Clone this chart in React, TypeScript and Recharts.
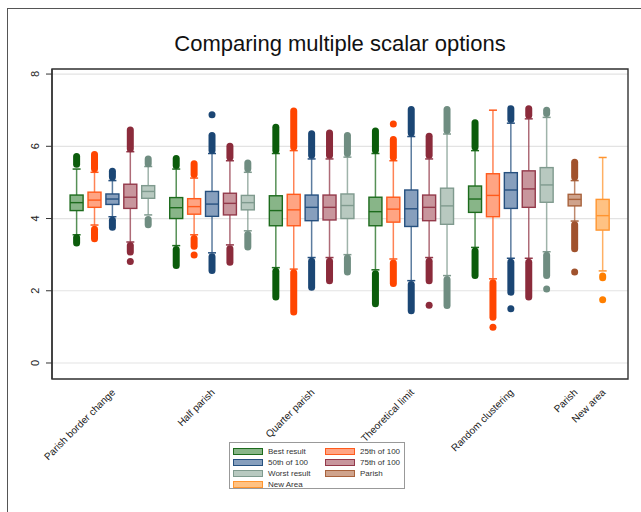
import React from "react";
import { ComposedChart, Bar, XAxis, YAxis, CartesianGrid, ReferenceArea } from "recharts";

const FONT = '"Liberation Sans", Arial, sans-serif';

const GROUPS = [
  "Parish border change",
  "Half parish",
  "Quarter parish",
  "Theoretical limit",
  "Random clustering",
  "Parish",
  "New area",
];
const SERIES = ["Best result", "25th of 100", "50th of 100", "75th of 100", "Worst result", "Parish", "New Area"];

// series shown inside each group, left to right
const GROUP_SERIES = [
  [0, 1, 2, 3, 4],
  [0, 1, 2, 3, 4],
  [0, 1, 2, 3, 4],
  [0, 1, 2, 3, 4],
  [0, 1, 2, 3, 4],
  [5],
  [6],
];

// one entry per box, in plot order
const Q1 = [
  4.22, 4.31, 4.39, 4.28, 4.56,
  4.0, 4.12, 4.06, 4.1, 4.24,
  3.8, 3.8, 3.94, 3.96, 4.0,
  3.8, 3.9, 3.78, 3.94, 3.84,
  4.17, 4.05, 4.28, 4.31, 4.45,
  4.35,
  3.68,
];
const MEDIAN = [
  4.44, 4.51, 4.54, 4.59, 4.75,
  4.3, 4.33, 4.4, 4.42, 4.44,
  4.22, 4.24, 4.31, 4.31, 4.36,
  4.19, 4.26, 4.27, 4.31, 4.35,
  4.54, 4.64, 4.79, 4.82, 4.93,
  4.53,
  4.08,
];
const Q3 = [
  4.65, 4.73, 4.68, 4.95, 4.91,
  4.58, 4.55, 4.75, 4.7, 4.64,
  4.63, 4.67, 4.65, 4.65, 4.68,
  4.59, 4.59, 4.79, 4.65, 4.84,
  4.9, 5.24, 5.27, 5.32, 5.41,
  4.67,
  4.53,
];
const WHISKER_LOW = [
  3.55, 3.82, 4.05, 3.35, 4.1,
  3.25, 3.55, 3.05, 3.27, 3.66,
  2.64, 2.6, 2.92, 2.92, 3.0,
  2.58, 2.88, 2.28, 2.92, 2.42,
  3.2, 2.33, 2.9, 2.9, 3.08,
  3.93,
  2.55,
];
const WHISKER_HIGH = [
  5.37, 5.28, 5.05, 5.85, 5.44,
  5.37, 5.12, 5.8, 5.6, 5.28,
  5.8, 5.88, 5.65, 5.65, 5.7,
  5.8, 5.6, 6.27, 5.65, 6.34,
  5.88, 7.0, 6.64, 6.76, 6.8,
  5.05,
  5.69,
];
// dense runs of outside values, [from, to]
const OUTLIERS_HIGH: ([number, number] | null)[] = [
  [5.5, 5.72], [5.38, 5.77], [5.15, 5.31], [5.93, 6.45], [5.52, 5.65],
  [5.47, 5.66], [5.22, 5.52], [5.89, 6.3], [5.7, 6.0], [5.38, 5.54],
  [5.89, 6.53], [5.98, 6.98], [5.75, 6.35], [5.75, 6.37], [5.8, 6.3],
  [5.89, 6.42], [5.7, 6.19], [6.37, 7.02], [5.75, 6.28], [6.44, 7.02],
  [5.98, 6.65], null, [6.74, 7.04], [6.86, 7.04], [6.91, 7.0],
  [5.15, 5.56],
  null,
];
const OUTLIERS_LOW: ([number, number] | null)[] = [
  [3.32, 3.47], [3.44, 3.7], [3.76, 3.95], [3.07, 3.25], [3.83, 3.97],
  [2.7, 3.14], [3.23, 3.45], [2.56, 2.94], [2.79, 3.16], [3.21, 3.56],
  [1.83, 2.54], [1.41, 2.5], [2.1, 2.82], [2.28, 2.82], [2.52, 2.91],
  [1.64, 2.47], [2.2, 2.77], [1.45, 2.17], [2.28, 2.82], [1.59, 2.31],
  [2.42, 3.1], [1.27, 2.22], [1.96, 2.79], [1.83, 2.79], [2.42, 2.98],
  [3.16, 3.83],
  [2.36, 2.41],
];
// isolated outside values
const OUTLIER_DOTS: number[][] = [
  [], [], [], [2.81], [],
  [], [2.99], [6.87], [], [],
  [], [], [], [], [],
  [], [6.62], [], [1.6], [],
  [], [0.99], [1.5], [], [2.05],
  [2.52],
  [1.75],
];

const Y_TICKS = [0, 2, 4, 6, 8];

// styles
const LINE = ["#1d6b1d", "#ff5a1c", "#26507f", "#93394a", "#7f9a8e", "#a8623c", "#ff9530"];
const FILL = ["#88b588", "#ffa483", "#879fbd", "#c8969d", "#b8c9c0", "#cfa38c", "#ffc283"];
const DOT = ["#0b5c0b", "#ff4500", "#1b4674", "#8b2b3b", "#6f8d81", "#a0522d", "#ff7f00"];
const GAP = 0.565; // space between groups, in box slots

const boxes: any[] = [];
const groupCenters: number[] = [];
{
  let pos = 0;
  let i = 0;
  GROUP_SERIES.forEach((members) => {
    const start = pos;
    members.forEach((s) => {
      const vals = [WHISKER_LOW[i], WHISKER_HIGH[i], ...OUTLIER_DOTS[i]];
      if (OUTLIERS_HIGH[i]) vals.push(...(OUTLIERS_HIGH[i] as number[]));
      if (OUTLIERS_LOW[i]) vals.push(...(OUTLIERS_LOW[i] as number[]));
      boxes.push({
        x: pos,
        series: s,
        q1: Q1[i],
        median: MEDIAN[i],
        q3: Q3[i],
        wLow: WHISKER_LOW[i],
        wHigh: WHISKER_HIGH[i],
        outHigh: OUTLIERS_HIGH[i],
        outLow: OUTLIERS_LOW[i],
        dots: OUTLIER_DOTS[i],
        span: [Math.min(...vals), Math.max(...vals)],
      });
      pos += 1;
      i += 1;
    });
    groupCenters.push((start + pos - 1) / 2);
    pos += GAP;
  });
}

function BoxShape(props: any) {
  const { x, width, y, height, payload } = props;
  const [lo, hi] = payload.span;
  const py = (v: number) => y + ((hi - v) / (hi - lo)) * height;
  const cx = x + width / 2;
  const s = payload.series;
  const half = 6.5;
  const r = 3.5;
  const run = (rg: [number, number] | null, k: string) =>
    rg ? (
      <rect
        key={k}
        x={cx - r}
        y={py(rg[1]) - r}
        width={2 * r}
        height={py(rg[0]) - py(rg[1]) + 2 * r}
        rx={r}
        fill={DOT[s]}
      />
    ) : null;
  return (
    <g>
      <line x1={cx} x2={cx} y1={py(payload.q3)} y2={py(payload.wHigh)} stroke={LINE[s]} strokeOpacity={0.75} strokeWidth={1.5} />
      <line x1={cx} x2={cx} y1={py(payload.q1)} y2={py(payload.wLow)} stroke={LINE[s]} strokeOpacity={0.75} strokeWidth={1.5} />
      <line x1={cx - 4} x2={cx + 4} y1={py(payload.wHigh)} y2={py(payload.wHigh)} stroke={LINE[s]} strokeWidth={1.5} />
      <line x1={cx - 4} x2={cx + 4} y1={py(payload.wLow)} y2={py(payload.wLow)} stroke={LINE[s]} strokeWidth={1.5} />
      <rect
        x={cx - half}
        y={py(payload.q3)}
        width={2 * half}
        height={py(payload.q1) - py(payload.q3)}
        fill={FILL[s]}
        stroke={LINE[s]}
        strokeWidth={1.4}
      />
      <line x1={cx - half} x2={cx + half} y1={py(payload.median)} y2={py(payload.median)} stroke={LINE[s]} strokeWidth={1.4} />
      {run(payload.outHigh, "h")}
      {run(payload.outLow, "l")}
      {payload.dots.map((d: number, j: number) => (
        <circle key={j} cx={cx} cy={py(d)} r={r} fill={DOT[s]} />
      ))}
    </g>
  );
}

function YTick({ x, y, payload }: any) {
  return (
    <text
      x={x - 5}
      y={y}
      transform={`rotate(-90 ${x - 5} ${y})`}
      textAnchor="middle"
      fontSize={11}
      fontFamily={FONT}
      fill="#222"
    >
      {payload.value}
    </text>
  );
}

function GroupTick({ x, y, payload, index }: any) {
  const k = groupCenters.indexOf(payload.value);
  const label = GROUPS[k >= 0 ? k : index];
  const ax = x + 3;
  const ay = y + 6;
  return (
    <text x={ax} y={ay} transform={`rotate(-45 ${ax} ${ay})`} textAnchor="end" fontSize={10} fontFamily={FONT} fill="#222">
      {label}
    </text>
  );
}

const X_DOMAIN: [number, number] = [-1.4, 30.78];
const Y_DOMAIN: [number, number] = [-0.443, 8.14];

export default function App() {
  return (
    <div style={{ position: "absolute", left: 0, top: 0, width: 641, height: 512, overflow: "hidden", background: "#fff", fontFamily: FONT }}>
      <div style={{ position: "absolute", left: 7, top: 8, width: 700, height: 600, border: "1px solid #555" }} />
      <div
        style={{
          position: "absolute",
          left: 52,
          top: 33,
          width: 576,
          textAlign: "center",
          fontSize: 22,
          lineHeight: "22px",
          color: "#111",
        }}
      >
        Comparing multiple scalar options
      </div>
      <div style={{ position: "absolute", left: 0, top: 0 }}>
        <ComposedChart width={641} height={512} data={boxes} margin={{ top: 69, right: 13, bottom: 73, left: 12 }}>
          <CartesianGrid vertical={false} stroke="#e3e3e3" strokeWidth={1.2} />
          <XAxis
            type="number"
            dataKey="x"
            domain={X_DOMAIN}
            allowDataOverflow
            ticks={groupCenters}
            interval={0}
            tick={<GroupTick />}
            tickLine={false}
            axisLine={false}
            height={60}
          />
          <YAxis
            type="number"
            domain={Y_DOMAIN}
            allowDataOverflow
            ticks={Y_TICKS}
            interval={0}
            width={40}
            tick={<YTick />}
            tickSize={6}
            tickLine={{ stroke: "#333" }}
            axisLine={{ stroke: "#333", strokeWidth: 1.4 }}
          />
          <ReferenceArea
            x1={X_DOMAIN[0]}
            x2={X_DOMAIN[1]}
            y1={Y_DOMAIN[0]}
            y2={Y_DOMAIN[1]}
            fill="none"
            fillOpacity={0}
            stroke="#333"
            strokeWidth={1.4}
            ifOverflow="visible"
          />
          <Bar dataKey="span" barSize={13} shape={<BoxShape />} isAnimationActive={false} />
        </ComposedChart>
      </div>
      <div
        style={{
          position: "absolute",
          left: 229,
          top: 442,
          width: 176,
          height: 47,
          border: "1px solid #999",
          background: "#fff",
          boxSizing: "border-box",
          padding: "3px 0 0 3px",
          display: "grid",
          gridTemplateColumns: "92px 80px",
          gridAutoRows: "11px",
          fontSize: 8,
          color: "#333",
        }}
      >
        {SERIES.map((name, i) => (
          <div key={name} style={{ display: "flex", alignItems: "center" }}>
            <span
              style={{
                display: "inline-block",
                width: 30,
                height: 7,
                boxSizing: "border-box",
                background: FILL[i],
                border: `1px solid ${LINE[i]}`,
                marginRight: 5,
              }}
            />
            <span>{name}</span>
          </div>
        ))}
      </div>
    </div>
  );
}
